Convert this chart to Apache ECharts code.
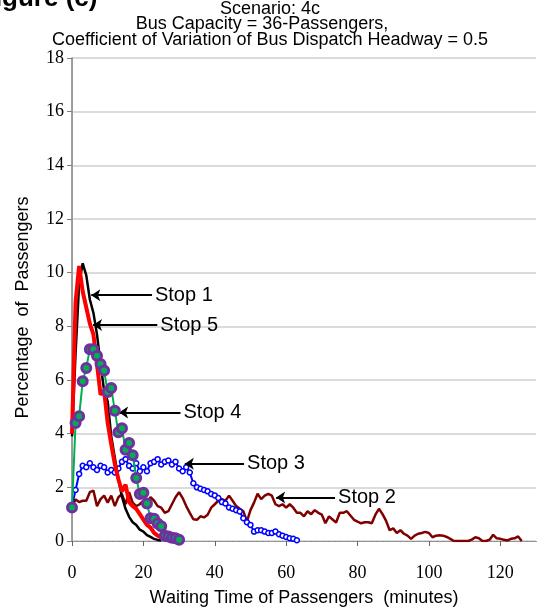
<!DOCTYPE html>
<html>
<head>
<meta charset="utf-8">
<script src="https://cdn.jsdelivr.net/npm/echarts@6/dist/echarts.min.js"></script>
<style>
  html, body { margin: 0; padding: 0; background: #fff; }
  #main { width: 539px; height: 612px; }
</style>
</head>
<body>
<div id="main"></div>
<script>
// percentage of passengers per minute of waiting time (index = minutes)
var stop1 = [3.9, 7.0, 9.6, 10.35, 9.9, 9.0, 8.5, 7.7, 6.6, 5.6, 5.2, 3.9, 3.1, 2.3, 1.65, 1.2, 0.9, 0.7, 0.6, 0.42, 0.35, 0.22, 0.15, 0.08, 0.04, 0.02];
var stop5 = [4.0, 8.9, 10.25, 9.3, 8.7, 8.1, 7.7, 6.6, 5.45, 5.6, 4.4, 3.6, 2.86, 2.3, 1.85, 2.1, 1.45, 1.3, 1.2, 1.0, 0.8, 0.6, 0.5, 0.3, 0.2, 0.12, 0.08];
var stop4 = [1.25, 4.4, 4.65, 5.95, 6.45, 7.15, 7.15, 6.9, 6.6, 6.35, 5.55, 5.7, 4.85, 4.05, 4.2, 3.4, 3.65, 3.2, 2.35, 1.75, 1.8, 1.4, 0.85, 0.83, 0.65, 0.55, 0.2, 0.17, 0.12, 0.1, 0.05];
var stop3 = [1.28, 1.9, 2.5, 2.8, 2.75, 2.9, 2.75, 2.65, 2.8, 2.75, 2.55, 2.65, 2.55, 2.7, 2.95, 3.05, 2.8, 2.7, 2.9, 2.6,
  2.75, 2.6, 2.9, 2.95, 3.05, 2.85, 2.95, 3.0, 2.85, 2.95, 2.7, 2.6, 2.75, 2.55, 2.15, 2.0, 1.95, 1.9, 1.85, 1.75,
  1.7, 1.6, 1.45, 1.4, 1.25, 1.2, 1.15, 1.1, 0.85, 0.7, 0.6, 0.35, 0.4, 0.4, 0.35, 0.3, 0.3, 0.35, 0.25, 0.2,
  0.15, 0.1, 0.08, 0.03];
var stop2 = [1.28, 1.55, 1.45, 1.5, 1.5, 1.82, 1.88, 1.3, 1.56, 1.69, 1.43, 1.69, 1.3, 1.63, 1.75, 1.37, 1.82, 1.43, 1.3, 1.37,
  1.5, 1.45, 1.63, 1.5, 1.3, 1.24, 1.05, 1.11, 1.37, 1.63, 1.82, 1.6, 1.3, 1.05, 0.81, 0.79, 0.92, 0.88, 0.98, 1.24,
  1.37, 1.5, 1.56, 1.5, 1.69, 1.5, 1.3, 1.2, 1.11, 0.72, 1.15, 1.43, 1.76, 1.56, 1.69, 1.76, 1.69, 1.37, 1.3, 1.37,
  1.24, 1.37, 1.24, 1.05, 1.05, 0.92, 1.11, 1.0, 1.15, 1.05, 0.98, 0.66, 0.92, 0.8, 0.69, 1.05, 1.05, 1.11, 0.95, 0.79,
  0.72, 0.66, 0.7, 0.7, 0.66, 0.98, 1.2, 1.0, 0.75, 0.4, 0.47, 0.3, 0.4, 0.27, 0.2, 0.08, 0.2, 0.27, 0.3, 0.34,
  0.3, 0.14, 0.2, 0.21, 0.2, 0.15, 0.08, 0, 0, 0, 0, 0, 0.05, 0.14, 0.1, 0, 0, 0.05, 0.23, 0.1,
  0.08, 0.05, 0.02, 0.08, 0.1, 0.17, 0];

var xTicks = [0, 20, 40, 60, 80, 100, 120];
var yTicks = [0, 2, 4, 6, 8, 10, 12, 14, 16, 18];
var titleLines = ['Scenario: 4c', 'Bus Capacity = 36-Passengers,', 'Coefficient of Variation of Bus Dispatch Headway = 0.5'];

// arrow callouts: [label, arrow tip x, y, tail x]
var callouts = [
  ['Stop 1', 5.4, 9.16, 22.4],
  ['Stop 5', 5.9, 8.05, 23.9],
  ['Stop 4', 13.2, 4.79, 30.4],
  ['Stop 3', 31.6, 2.88, 48.2],
  ['Stop 2', 57.2, 1.62, 73.7]
];

function pairs(arr) {
  return arr.map(function (v, i) { return [i, v]; });
}

function arrow(c) {
  return {
    silent: true,
    symbol: ['arrow', 'none'],
    symbolSize: 9,
    lineStyle: { color: '#000', width: 2, type: 'solid' },
    label: {
      show: true, position: 'end', formatter: c[0], distance: 3,
      color: '#000', fontSize: 20, fontFamily: 'Liberation Sans'
    },
    data: [[{ coord: [c[1], c[2]] }, { coord: [c[3], c[2]] }]]
  };
}

var myChart = echarts.init(document.getElementById('main'));

var titleOffsets = [0, -8, 0];
var graphics = titleLines.map(function (t, i) {
  return {
    type: 'text', x: 270 + titleOffsets[i], y: 9 + i * 15.5,
    style: {
      text: t, font: '18px "Liberation Sans"', fill: '#000',
      textAlign: 'center', textVerticalAlign: 'middle', align: 'center', verticalAlign: 'middle'
    }
  };
});
graphics.push({
  type: 'text', x: -21, y: -14,
  style: { text: 'Figure (c)', font: 'bold 26px "Liberation Sans"', fill: '#000' }
});

var option = {
  animation: false,
  graphic: graphics,
  grid: { left: 72, right: 3, top: 58, bottom: 66 },
  xAxis: [{
    type: 'value', min: 0, max: 130, interval: 20,
    name: 'Waiting Time of Passengers  (minutes)',
    nameLocation: 'middle', nameGap: 48,
    nameTextStyle: { fontFamily: 'Liberation Sans', fontSize: 18, color: '#000' },
    axisLine: { show: true, lineStyle: { color: '#000', width: 1, type: 'dashed' } },
    axisTick: { show: true, length: 5, lineStyle: { color: '#666' } },
    axisLabel: {
      fontFamily: 'Liberation Serif', fontSize: 18, color: '#000', margin: 23,
      showMaxLabel: false,
      formatter: function (v) { return xTicks.indexOf(v) >= 0 ? v : ''; }
    },
    splitLine: { show: false }
  }, {
    type: 'value', position: 'top', min: 0, max: 130,
    axisLine: { show: true, lineStyle: { color: '#999', width: 1, type: 'dashed' } },
    axisTick: { show: false }, axisLabel: { show: false }, splitLine: { show: false }
  }],
  yAxis: [{
    type: 'value', min: 0, max: 18, interval: 2,
    name: 'Percentage  of  Passengers',
    nameLocation: 'middle', nameGap: 40,
    nameTextStyle: { fontFamily: 'Liberation Sans', fontSize: 18, color: '#000', padding: [0, 16, 0, 0] },
    axisLine: { show: true, lineStyle: { color: '#808080', width: 1.5 } },
    axisTick: { show: true, length: 5, lineStyle: { color: '#808080' } },
    axisLabel: {
      fontFamily: 'Liberation Serif', fontSize: 18, color: '#000', margin: 8,
      formatter: function (v) { return yTicks.indexOf(v) >= 0 ? v : ''; }
    },
    splitLine: { show: true, lineStyle: { color: '#cfcfcf', width: 1.5 } }
  }, {
    type: 'value', position: 'right', min: 0, max: 18,
    axisLine: { show: true, lineStyle: { color: '#999', width: 1, type: 'dashed' } },
    axisTick: { show: false }, axisLabel: { show: false }, splitLine: { show: false }
  }],
  series: [
    {
      name: 'Stop 2', type: 'line', data: pairs(stop2), symbol: 'none',
      lineStyle: { color: '#800000', width: 2.5 }, z: 2,
      markLine: arrow(callouts[4])
    },
    {
      name: 'Stop 3', type: 'line', data: pairs(stop3), symbol: 'circle', symbolSize: 5,
      lineStyle: { color: '#0000ff', width: 2 },
      itemStyle: { color: '#ffffff', borderColor: '#0000ff', borderWidth: 1.5 }, z: 3,
      markLine: arrow(callouts[3])
    },
    {
      name: 'Stop 1', type: 'line', data: pairs(stop1), symbol: 'none',
      lineStyle: { color: '#000000', width: 2.5 }, z: 4,
      markLine: arrow(callouts[0])
    },
    {
      name: 'Stop 5', type: 'line', data: pairs(stop5), symbol: 'none',
      lineStyle: { color: '#ff0000', width: 4 }, z: 5,
      markLine: arrow(callouts[1])
    },
    {
      name: 'Stop 4', type: 'line', data: pairs(stop4), symbol: 'circle', symbolSize: 9,
      lineStyle: { color: '#00b050', width: 2 },
      itemStyle: { color: '#00b050', borderColor: '#7030a0', borderWidth: 3 }, z: 6,
      markLine: arrow(callouts[2])
    }
  ]
};

myChart.setOption(option);
</script>
</body>
</html>
